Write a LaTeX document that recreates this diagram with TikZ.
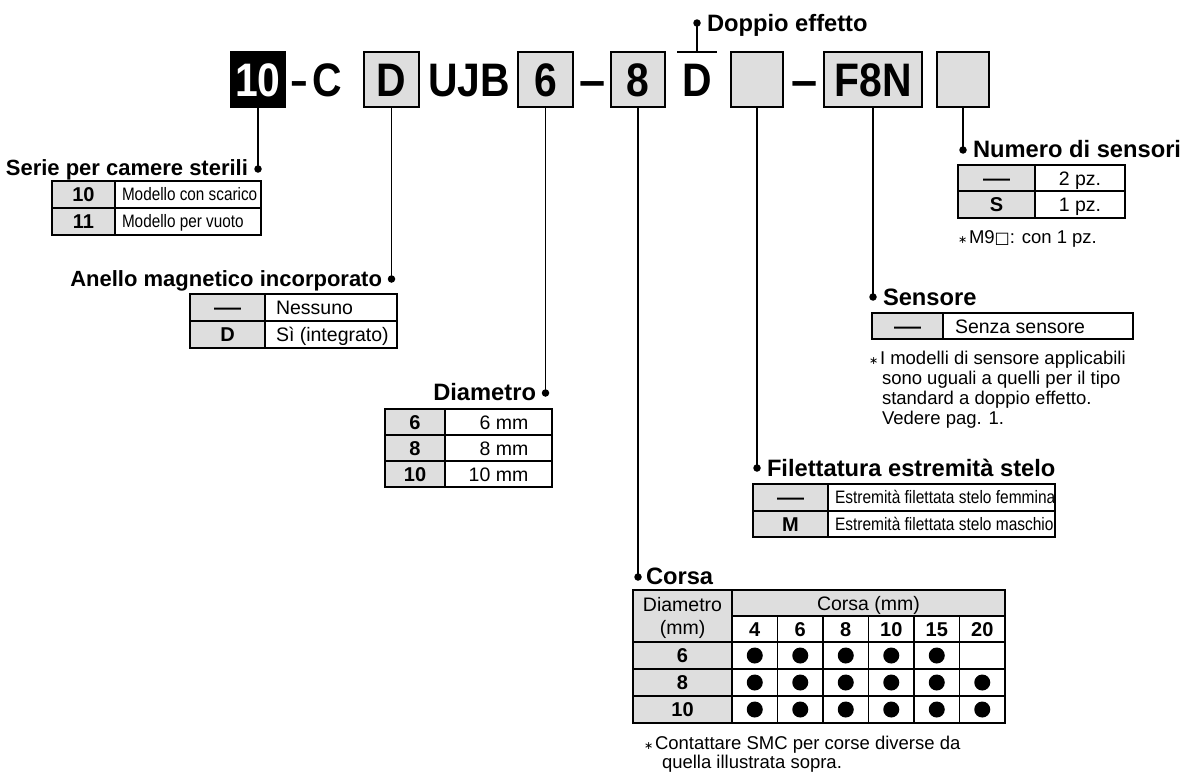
\documentclass[tikz,border=0pt]{standalone}
\usepackage{fontspec}
\setmainfont{Liberation Sans}
\newfontfamily\symfont{DejaVu Sans}

\definecolor{boxgray}{HTML}{DEDEDE}
\newcommand{\setfs}[1]{\fontsize{#1}{#1}\selectfont}
\newcommand{\condtext}[2][0.87]{\scalebox{#1}[1]{#2}}
\newcommand{\wdash}{\condtext[1.35]{—}}
\newcommand{\fnstar}{{\symfont\setfs{11}∗}}
\newcommand{\codedash}[1][1]{\condtext[#1]{–}}

\tikzset{
  every node/.style={inner sep=0pt, outer sep=0pt},
  code/.style={font=\setfs{47}\bfseries, text height=34pt, text depth=0pt, minimum height=55pt},
  codebox/.style={code, draw, line width=2pt, fill=boxgray},
  conn/.style={line width=1.8pt},
  pin/.style={circle, fill=black, minimum size=7.5pt},
  lbl/.style={font=\setfs{23.7}\bfseries},
  lblsm/.style={font=\setfs{22}\bfseries},
  cell/.style={draw, line width=1.2pt, anchor=north west},
  gcell/.style={cell, fill=boxgray},
  wcell/.style={cell, fill=white},
  tcode/.style={font=\setfs{20}\bfseries, text height=14.3pt, text depth=0pt},
  ttxt/.style={font=\setfs{19.5}, text height=14pt, text depth=0pt},
  tcond/.style={font=\setfs{18}, text height=12.9pt, text depth=0pt},
  fn/.style={font=\setfs{18.5}, anchor=base west},
  bullet/.style={circle, fill=black, minimum size=16pt},
}

\begin{document}
\begin{tikzpicture}[x=1pt, y=-1pt]
\useasboundingbox (0,0) rectangle (1185,771);

% ---------- product code ----------
\node[codebox, fill=black, text=white, minimum width=54pt] (k10) at (258,79.5) {\condtext{10}};
\node[code] (km1) at (299.5,79.5) {\codedash[0.6]};
\node[code] (kC) at (327,79.5) {\condtext{C}};
\node[codebox, minimum width=55pt] (kD) at (391.5,79.5) {\condtext{D}};
\node[code] (kUJB) at (469,79.5) {\condtext{UJB}};
\node[codebox, minimum width=55pt] (k6) at (545.5,79.5) {\condtext{6}};
\node[code] (km2) at (592.5,79.5) {\codedash};
\node[codebox, minimum width=54pt] (k8) at (638,79.5) {\condtext{8}};
\node[code, minimum width=40pt] (kDa) at (697,79.5) {\condtext{D}};
\node[codebox, minimum width=52pt] (kR) at (757,79.5) {};
\node[code] (km3) at (804.5,79.5) {\codedash};
\node[codebox, minimum width=98pt] (kSw) at (873,79.5) {\condtext{F8N}};
\node[codebox, minimum width=52pt] (kN) at (963,79.5) {};

% ---------- Doppio effetto ----------
\draw[line width=1.6pt] (kDa.north west) -- (kDa.north east);
\node[pin] (pDop) at (697,23) {};
\draw[conn] (pDop.center) -- (kDa.north);
\node[lbl, anchor=base west] (tDop) at (707,31) {Doppio effetto};

% ---------- Serie per camere sterili ----------
\node[pin] (pSer) at (258,169) {};
\draw[conn] (k10.south) -- (pSer.center);
\node[lblsm, anchor=base east] (tSer) at (248,175) {Serie per camere sterili};
\node[gcell, tcode, minimum width=63pt, minimum height=27pt] (se1a) at (52,181) {10};
\node[wcell, minimum width=146pt, minimum height=27pt] (se1b) at (115,181) {};
\node[tcond, anchor=west] (se1t) at ([xshift=7pt]se1b.west) {\condtext[0.85]{Modello con scarico}};
\node[gcell, tcode, minimum width=63pt, minimum height=27pt] (se2a) at (52,208) {11};
\node[wcell, minimum width=146pt, minimum height=27pt] (se2b) at (115,208) {};
\node[tcond, anchor=west] (se2t) at ([xshift=7pt]se2b.west) {\condtext[0.85]{Modello per vuoto}};

% ---------- Anello magnetico incorporato ----------
\node[pin] (pAn) at (391.5,279) {};
\draw[conn] (kD.south) -- (pAn.center);
\node[lblsm, anchor=base east] (tAn) at (382,286) {Anello magnetico incorporato};
\node[gcell, tcode, minimum width=75pt, minimum height=27pt] (an1a) at (190,294) {\wdash};
\node[wcell, minimum width=132pt, minimum height=27pt] (an1b) at (265,294) {};
\node[ttxt, anchor=west] (an1t) at ([xshift=11pt]an1b.west) {Nessuno};
\node[gcell, tcode, minimum width=75pt, minimum height=27pt] (an2a) at (190,321) {D};
\node[wcell, minimum width=132pt, minimum height=27pt] (an2b) at (265,321) {};
\node[ttxt, anchor=west] (an2t) at ([xshift=11pt]an2b.west) {Sì (integrato)};

% ---------- Diametro ----------
\node[pin] (pDia) at (545.5,393) {};
\draw[conn] (k6.south) -- (pDia.center);
\node[lbl, anchor=base east] (tDia) at (536,400) {Diametro};
\node[gcell, tcode, minimum width=60pt, minimum height=26pt] (di1a) at (385,409) {6};
\node[wcell, ttxt, minimum width=107pt, minimum height=26pt] (di1b) at (445,409) {\phantom{1}6 mm};
\node[gcell, tcode, minimum width=60pt, minimum height=26pt] (di2a) at (385,435) {8};
\node[wcell, ttxt, minimum width=107pt, minimum height=26pt] (di2b) at (445,435) {\phantom{1}8 mm};
\node[gcell, tcode, minimum width=60pt, minimum height=26pt] (di3a) at (385,461) {10};
\node[wcell, ttxt, minimum width=107pt, minimum height=26pt] (di3b) at (445,461) {10 mm};

% ---------- Numero di sensori ----------
\node[pin] (pNum) at (963,150) {};
\draw[conn] (kN.south) -- (pNum.center);
\node[lbl, anchor=base west] (tNum) at (973,157) {Numero di sensori};
\node[gcell, tcode, minimum width=77pt, minimum height=26pt] (nu1a) at (958,165) {\wdash};
\node[wcell, ttxt, minimum width=90pt, minimum height=26pt] (nu1b) at (1035,165) {2 pz.};
\node[gcell, tcode, minimum width=77pt, minimum height=27pt] (nu2a) at (958,191) {S};
\node[wcell, ttxt, minimum width=90pt, minimum height=27pt] (nu2b) at (1035,191) {1 pz.};
\node[fn] (nuS) at (958,243) {\fnstar};
\node[fn] (nuF) at (969,243) {M9{\symfont\setfs{16}□}: con 1 pz.};

% ---------- Sensore ----------
\node[pin] (pSen) at (873,297) {};
\draw[conn] (kSw.south) -- (pSen.center);
\node[lbl, anchor=base west] (tSen) at (883,305) {Sensore};
\node[gcell, tcode, minimum width=71pt, minimum height=26pt] (sn1a) at (872,313) {\wdash};
\node[wcell, minimum width=190pt, minimum height=26pt] (sn1b) at (943,313) {};
\node[ttxt, anchor=west] (sn1t) at ([xshift=12pt]sn1b.west) {Senza sensore};
\node[fn] (snS) at (869,364.5) {\fnstar};
\node[fn] (snF1) at (880,364.5) {I modelli di sensore applicabili};
\node[fn] (snF2) at (882,384.5) {sono uguali a quelli per il tipo};
\node[fn] (snF3) at (882,404.5) {standard a doppio effetto.};
\node[fn] (snF4) at (882,424.5) {Vedere pag. 1.};

% ---------- Filettatura estremità stelo ----------
\node[pin] (pFil) at (757,468) {};
\draw[conn] (kR.south) -- (pFil.center);
\node[lbl, anchor=base west] (tFil) at (767,476) {Filettatura estremità stelo};
\node[gcell, tcode, minimum width=75pt, minimum height=27pt] (fi1a) at (753,484) {\wdash};
\node[wcell, minimum width=227pt, minimum height=27pt] (fi1b) at (828,484) {};
\node[tcond, anchor=west] (fi1t) at ([xshift=7pt]fi1b.west) {\condtext[0.86]{Estremità filettata stelo femmina}};
\node[gcell, tcode, minimum width=75pt, minimum height=26pt] (fi2a) at (753,511) {M};
\node[wcell, minimum width=227pt, minimum height=26pt] (fi2b) at (828,511) {};
\node[tcond, anchor=west] (fi2t) at ([xshift=7pt]fi2b.west) {\condtext[0.86]{Estremità filettata stelo maschio}};

% ---------- Corsa ----------
\node[pin] (pCor) at (638,577) {};
\draw[conn] (k8.south) -- (pCor.center);
\node[lbl, anchor=base west] (tCor) at (646,584) {Corsa};
\node[gcell, minimum width=99pt, minimum height=52pt] (coH) at (633,590) {};
\node[ttxt] (coH1) at (682.5,604) {Diametro};
\node[ttxt] (coH2) at (682.5,627) {(mm)};
\node[gcell, ttxt, minimum width=273pt, minimum height=26pt] (coHc) at (732,590) {Corsa (mm)};
\foreach \c [count=\i] in {4,6,8,10,15,20} {
  \node[wcell, tcode, minimum width=45.5pt, minimum height=26pt] (con\i) at ({732+45.5*(\i-1)},616) {\c};
}
\foreach \d/\y [count=\r] in {6/642, 8/669, 10/696} {
  \node[gcell, tcode, minimum width=99pt, minimum height=27pt] (cod\r) at (633,\y) {\d};
  \foreach \i in {1,...,6} {
    \node[wcell, minimum width=45.5pt, minimum height=27pt] (coc\r\i) at ({732+45.5*(\i-1)},\y) {};
    \ifnum\r\i=16 \else
      \node[bullet] (cob\r\i) at (coc\r\i.center) {};
    \fi
  }
}
\node[fn] (coS) at (644,749) {\fnstar};
\node[fn] (coF1) at (655,749) {Contattare SMC per corse diverse da};
\node[fn] (coF2) at (662,768) {quella illustrata sopra.};

\end{tikzpicture}
\end{document}
